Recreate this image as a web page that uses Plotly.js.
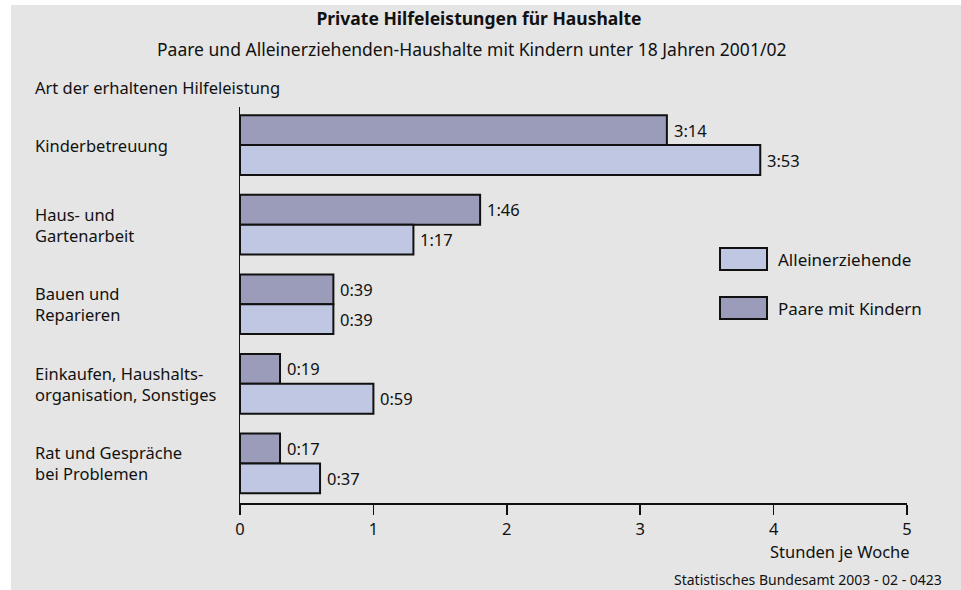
<!DOCTYPE html>
<html>
<head>
<meta charset="utf-8">
<script src="https://cdn.plot.ly/plotly-3.0.1.min.js"></script>
<style>html,body{margin:0;padding:0;background:#fff;}#chart{width:961px;height:590px;}</style>
</head>
<body>
<div id="chart"></div>
<script>
// ---- data ----
const categories = [
  "Kinderbetreuung",
  "Haus- und<br>Gartenarbeit",
  "Bauen und<br>Reparieren",
  "Einkaufen, Haushalts-<br>organisation, Sonstiges",
  "Rat und Gespräche<br>bei Problemen"
];
const seriesNames = ["Paare mit Kindern", "Alleinerziehende"];
const paareValues = [3.2, 1.8, 0.7, 0.3, 0.3];     // hours per week (bar length)
const alleinValues = [3.9, 1.3, 0.7, 1.0, 0.6];
const paareLabels = ["3:14", "1:46", "0:39", "0:19", "0:17"];
const alleinLabels = ["3:53", "1:17", "0:39", "0:59", "0:37"];
const xTicks = [0, 1, 2, 3, 4, 5];

// ---- style ----
const FONT = "Noto Sans, Open Sans, sans-serif";
const FS = 16.5;
const C_PAARE = "#9a9cb9";
const C_ALLEIN = "#c0c7e3";
const BG = "#e5e5e5";
const INK = "#111111";

// plot area geometry (pixels) for converting paper coordinates
const L = 240, R = 907, T = 107, B = 503;
const px = x => (x - L) / (R - L);
const py = y => (B - y) / (B - T);

const ids = categories.map((c, i) => i);
const BARGAP = 0.25;
const half = (1 - BARGAP) / 4; // offset of each bar centre from category centre

const traces = [
  {
    type: "bar", orientation: "h", name: seriesNames[0],
    y: ids, x: paareValues,
    marker: {color: C_PAARE, line: {color: INK, width: 2}},
    hoverinfo: "skip", showlegend: false
  },
  {
    type: "bar", orientation: "h", name: seriesNames[1],
    y: ids, x: alleinValues,
    marker: {color: C_ALLEIN, line: {color: INK, width: 2}},
    hoverinfo: "skip", showlegend: false
  }
];

const annotations = [];
const txt = (o) => Object.assign({showarrow: false, font: {family: FONT, size: FS, color: INK}}, o);

// subtitle
annotations.push(txt({xref: "paper", yref: "paper", x: px(471), y: py(49), xanchor: "center", yanchor: "middle",
  text: "Paare und Alleinerziehenden-Haushalte mit Kindern unter 18 Jahren 2001/02",
  font: {family: FONT, size: 17.5, color: INK}}));
// axis heading
annotations.push(txt({xref: "paper", yref: "paper", x: px(33), y: py(88), xanchor: "left", yanchor: "middle",
  text: "Art der erhaltenen Hilfeleistung"}));
// category labels
categories.forEach((c, i) => {
  annotations.push(txt({xref: "paper", yref: "y", x: px(33), y: i, xanchor: "left", yanchor: "middle", align: "left",
    text: c}));
});
// value labels
paareValues.forEach((v, i) => {
  annotations.push(txt({xref: "x", yref: "y", x: v, y: i - half, xanchor: "left", yanchor: "middle",
    xshift: 5, text: paareLabels[i]}));
});
alleinValues.forEach((v, i) => {
  annotations.push(txt({xref: "x", yref: "y", x: v, y: i + half, xanchor: "left", yanchor: "middle",
    xshift: 5, text: alleinLabels[i]}));
});
// x axis title
annotations.push(txt({xref: "paper", yref: "paper", x: px(912), y: py(551), xanchor: "right", yanchor: "middle",
  text: "Stunden je Woche"}));
// source
annotations.push(txt({xref: "paper", yref: "paper", x: px(944), y: py(579), xanchor: "right", yanchor: "middle",
  text: "Statistisches Bundesamt 2003 - 02 - 0423", font: {family: FONT, size: 14, color: INK}}));
// legend texts
annotations.push(txt({xref: "paper", yref: "paper", x: px(776), y: py(259), xanchor: "left", yanchor: "middle",
  text: seriesNames[1], font: {family: FONT, size: 17, color: INK}}));
annotations.push(txt({xref: "paper", yref: "paper", x: px(776), y: py(308), xanchor: "left", yanchor: "middle",
  text: seriesNames[0], font: {family: FONT, size: 17, color: INK}}));

const shapes = [
  {type: "rect", xref: "paper", yref: "paper", x0: px(11), x1: px(975), y0: py(600), y1: py(5),
   fillcolor: BG, line: {width: 0}, layer: "below"},
  {type: "rect", xref: "paper", yref: "paper", x0: px(720), x1: px(767), y0: py(270), y1: py(248),
   fillcolor: C_ALLEIN, line: {color: INK, width: 2}},
  {type: "rect", xref: "paper", yref: "paper", x0: px(720), x1: px(767), y0: py(319), y1: py(297),
   fillcolor: C_PAARE, line: {color: INK, width: 2}}
];

const layout = {
  width: 961, height: 590,
  margin: {l: L, r: 961 - R, t: T, b: 590 - B, pad: 0},
  paper_bgcolor: "#ffffff", plot_bgcolor: "rgba(0,0,0,0)",
  title: {text: "<b>Private Hilfeleistungen für Haushalte</b>", x: 479 / 961, xanchor: "center",
          y: 1 - 19 / 590, yanchor: "middle", font: {family: FONT, size: 17.5, color: INK}},
  barmode: "group", bargap: BARGAP, bargroupgap: 0,
  showlegend: false,
  xaxis: {range: [0, 5], tickvals: xTicks, ticktext: xTicks.map(String), ticks: "outside", ticklen: 10,
          tickwidth: 1.5, tickcolor: INK, showline: true, linecolor: INK, linewidth: 2,
          showgrid: false, zeroline: false, fixedrange: true,
          tickfont: {family: FONT, size: FS, color: INK}},
  yaxis: {type: "linear", range: [4.498, -0.479], showticklabels: false, ticks: "", showgrid: false,
          zeroline: false, showline: true, linecolor: INK, linewidth: 1.5, fixedrange: true},
  annotations: annotations, shapes: shapes
};

Plotly.newPlot("chart", traces, layout, {staticPlot: true, displayModeBar: false});
</script>
</body>
</html>
